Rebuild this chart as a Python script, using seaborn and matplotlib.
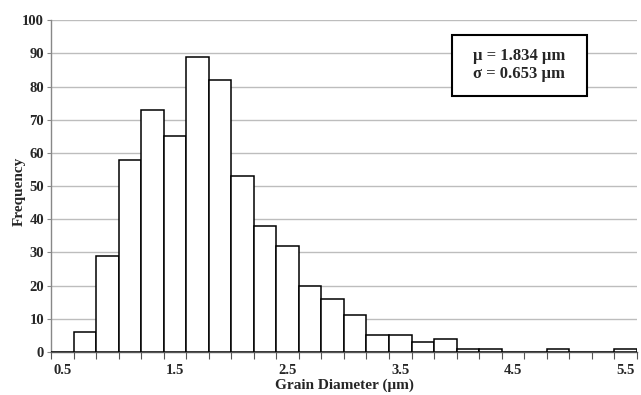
import matplotlib
matplotlib.use("Agg")
import matplotlib.pyplot as plt
import matplotlib.patches as mpatches
import seaborn as sns
import pandas as pd

# Data
bin_labels = ["0.5", "0.7", "0.9", "1.1", "1.3", "1.5", "1.7", "1.9", "2.1", "2.3",
              "2.5", "2.7", "2.9", "3.1", "3.3", "3.5", "3.7", "3.9", "4.1", "4.3",
              "4.5", "4.7", "4.9", "5.1", "5.3", "5.5"]
frequency = [0, 6, 29, 58, 73, 65, 89, 82, 53, 38,
             32, 20, 16, 11, 5, 5, 3, 4, 1, 1,
             0, 0, 1, 0, 0, 1]
shown_tick_labels = ["0.5", "1.5", "2.5", "3.5", "4.5", "5.5"]
stats_text = "\u03bc = 1.834 \u03bcm\n\u03c3 = 0.653 \u03bcm"

sns.set_theme(style="white")
plt.rcParams["font.family"] = ["Liberation Serif", "DejaVu Serif"]

df = pd.DataFrame({"Diameter": bin_labels, "Frequency": frequency})

fig = plt.figure(figsize=(6.41, 3.95), dpi=100)
ax = fig.add_axes([0.0796, 0.109, 0.914, 0.840])

sns.barplot(data=df, x="Diameter", y="Frequency", order=bin_labels,
            color="white", edgecolor="black", linewidth=1.1, width=1.0,
            saturation=1, ax=ax, zorder=3)

ax.set_xlim(-0.5, len(bin_labels) - 0.5)
ax.set_ylim(0, 100)
ax.set_yticks(range(0, 101, 10))
ax.yaxis.grid(True, color="#bdbdbd", linewidth=1.0, zorder=0)
ax.set_axisbelow(True)

# x tick labels every 5th category, tick marks at category boundaries
major_pos = [bin_labels.index(l) for l in shown_tick_labels]
ax.set_xticks(major_pos)
ax.set_xticklabels(shown_tick_labels)
ax.set_xticks([i - 0.5 for i in range(len(bin_labels) + 1)], minor=True)
ax.tick_params(axis="x", which="major", length=0, pad=9,
               labelsize=10.5)
ax.tick_params(axis="x", which="minor", length=5, width=0.8,
               color="#555555", direction="out", bottom=True)
ax.tick_params(axis="y", which="major", length=3, width=0.8,
               color="#888888", direction="out", left=True, labelsize=10.5, pad=2)
for lab in ax.get_xticklabels() + ax.get_yticklabels():
    lab.set_fontweight("bold")

for s in ["top", "right"]:
    ax.spines[s].set_visible(False)
ax.spines["left"].set_color("#888888")
ax.spines["left"].set_linewidth(1.0)
ax.spines["bottom"].set_color("#555555")
ax.spines["bottom"].set_linewidth(1.0)

ax.set_xlabel("Grain Diameter (\u03bcm)", fontsize=11, fontweight="bold", labelpad=1)
ax.set_ylabel("Frequency", fontsize=11, fontweight="bold")
ax.yaxis.set_label_coords(-0.043, 0.485)

# stats box
ax.add_patch(mpatches.Rectangle((0.684, 0.771), 0.231, 0.184, transform=ax.transAxes,
                                facecolor="white", edgecolor="black", linewidth=1.5,
                                zorder=5))
ax.text(0.7995, 0.864, stats_text, transform=ax.transAxes, ha="center", va="center",
        fontsize=12, fontweight="bold", linespacing=1.2, zorder=6)

fig.savefig("out.png", dpi=100)
